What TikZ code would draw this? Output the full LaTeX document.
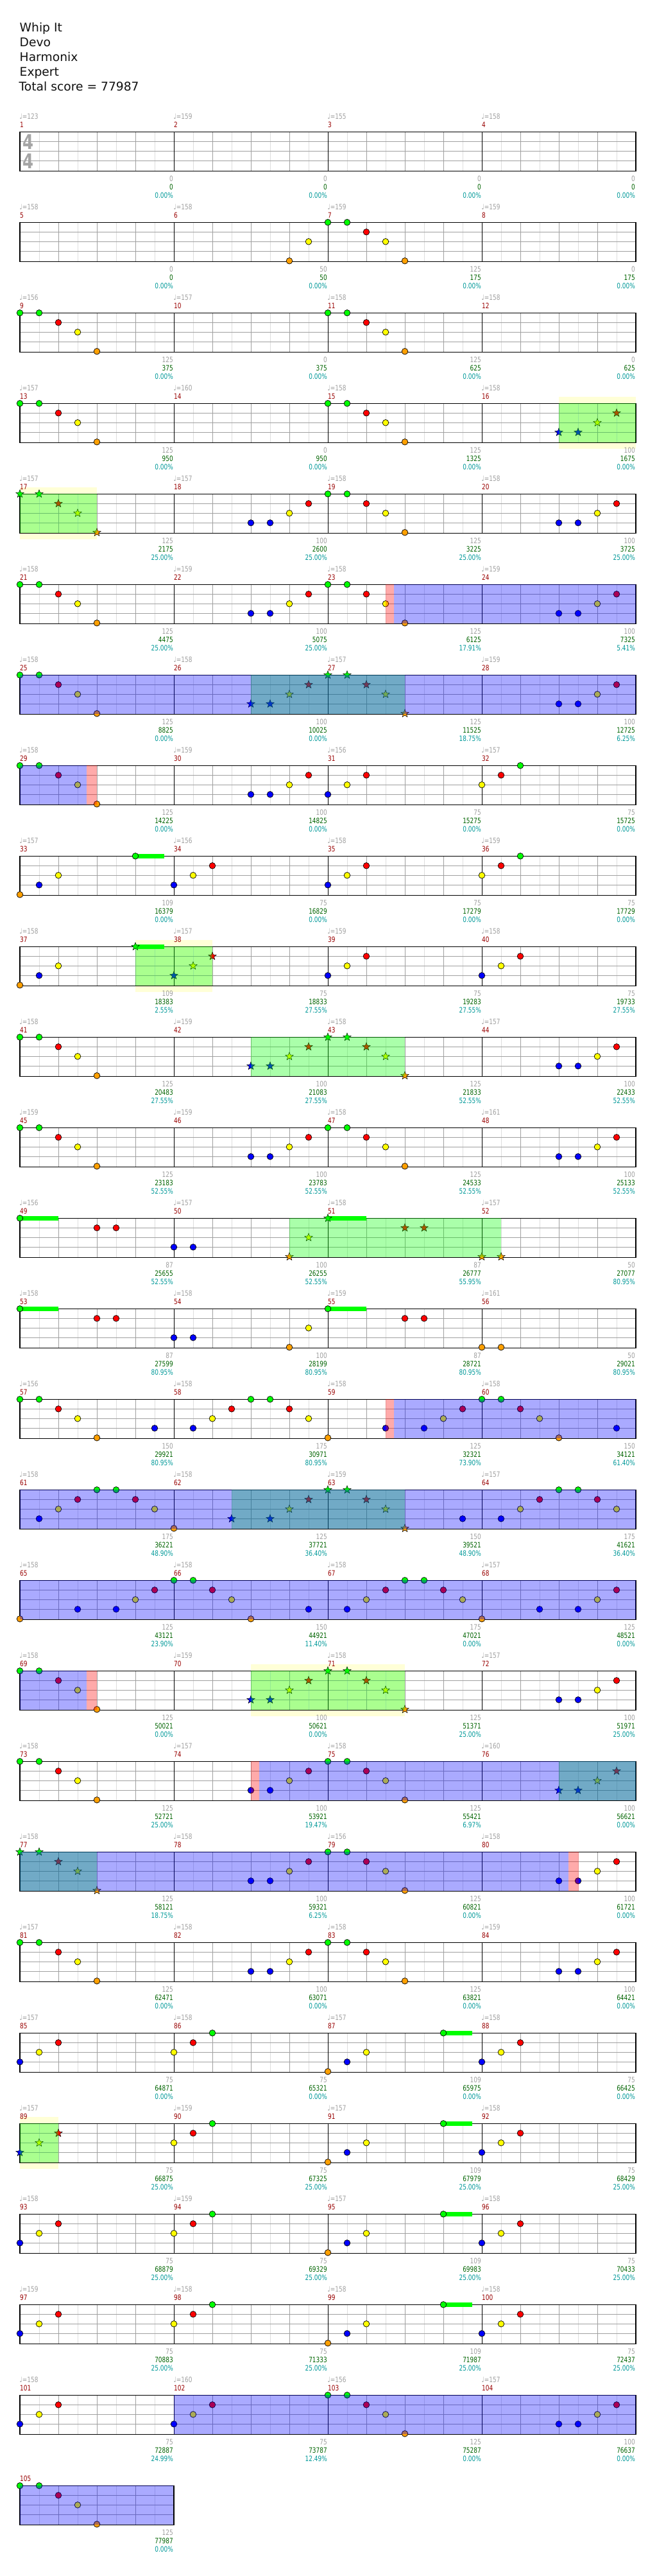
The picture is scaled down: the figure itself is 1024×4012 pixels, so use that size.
\documentclass[tikz,border=0pt]{standalone}
\usepackage{fontspec}
\setmainfont{DejaVu Sans}
\newfontfamily\lblfont[FakeStretch=0.78]{DejaVu Sans}
\usetikzlibrary{shapes.geometric}
\definecolor{cG}{RGB}{0,255,0}
\definecolor{cR}{RGB}{255,0,0}
\definecolor{cY}{RGB}{255,255,0}
\definecolor{cB}{RGB}{0,0,255}
\definecolor{cO}{RGB}{255,160,0}
\definecolor{glight}{RGB}{222,222,222}
\definecolor{gdark}{RGB}{160,160,160}
\definecolor{tgray}{RGB}{160,160,160}
\definecolor{mred}{RGB}{153,0,0}
\definecolor{sgreen}{RGB}{0,100,0}
\definecolor{pcyan}{RGB}{0,153,153}
\definecolor{bandy}{RGB}{255,255,215}
\definecolor{sigray}{RGB}{165,165,165}
\definecolor{hdrtext}{RGB}{17,17,17}
\tikzset{
  lbl/.style={font=\lblfont\fontsize{11.5}{12}\selectfont, inner sep=0pt},
  hdr/.style={font=\fontsize{18.7}{20}\selectfont, inner sep=0pt, anchor=base west, text=hdrtext},
  notec/.style={draw=black, line width=0.7pt, fill=#1},
  starn/.style={star, star points=5, star point ratio=2.4, minimum size=13pt, inner sep=0pt, draw=black, line width=0.5pt, fill=#1},
  sigf/.style={font=\bfseries, text=sigray, inner sep=0pt}
}
\def\laneG{0}\def\laneR{1}\def\laneY{2}\def\laneB{3}\def\laneO{4}
\newcommand\Nt[4]{\pgfmathsetmacro\nX{31+240*#2+30*#3}\pgfmathsetmacro\nY{205.3+141*#1+15*\csname lane#4\endcsname}\draw[notec=c#4] (\nX,\nY) circle (4.8);}
\newcommand\St[4]{\pgfmathsetmacro\nX{31+240*#2+30*#3}\pgfmathsetmacro\nY{205.3+141*#1+15*\csname lane#4\endcsname}\node[starn=c#4] (s#1-#2-#3) at (\nX,\nY) {};}
\newcommand\Sus[4]{\pgfmathsetmacro\nX{31+240*#2+30*#3}\pgfmathsetmacro\nY{205.3+141*#1}\fill[cG] (\nX,{\nY-3.3}) rectangle ({\nX+#4},{\nY+3.3});}
\newcommand\ptA[2]{\Nt{#1}{#2}{0}{G}\Nt{#1}{#2}{1}{G}\Nt{#1}{#2}{2}{R}\Nt{#1}{#2}{3}{Y}\Nt{#1}{#2}{4}{O}}
\newcommand\stA[2]{\St{#1}{#2}{0}{G}\St{#1}{#2}{1}{G}\St{#1}{#2}{2}{R}\St{#1}{#2}{3}{Y}\St{#1}{#2}{4}{O}}
\newcommand\ptB[2]{\Nt{#1}{#2}{4}{B}\Nt{#1}{#2}{5}{B}\Nt{#1}{#2}{6}{Y}\Nt{#1}{#2}{7}{R}}
\newcommand\stB[2]{\St{#1}{#2}{4}{B}\St{#1}{#2}{5}{B}\St{#1}{#2}{6}{Y}\St{#1}{#2}{7}{R}}
\newcommand\ptC[2]{\Nt{#1}{#2}{0}{B}\Nt{#1}{#2}{1}{Y}\Nt{#1}{#2}{2}{R}}
\newcommand\stC[2]{\St{#1}{#2}{0}{B}\St{#1}{#2}{1}{Y}\St{#1}{#2}{2}{R}}
\newcommand\ptD[2]{\Nt{#1}{#2}{0}{Y}\Nt{#1}{#2}{1}{R}\Nt{#1}{#2}{2}{G}}
\newcommand\ptE[2]{\Sus{#1}{#2}{6}{45}\Nt{#1}{#2}{0}{O}\Nt{#1}{#2}{1}{B}\Nt{#1}{#2}{2}{Y}\Nt{#1}{#2}{6}{G}}
\newcommand\ptF[2]{\Nt{#1}{#2}{1}{B}\Nt{#1}{#2}{2}{Y}\Nt{#1}{#2}{3}{R}\Nt{#1}{#2}{4}{G}\Nt{#1}{#2}{5}{G}\Nt{#1}{#2}{6}{R}\Nt{#1}{#2}{7}{Y}}
\newcommand\ptH[2]{\Nt{#1}{#2}{0}{O}\Nt{#1}{#2}{3}{B}\Nt{#1}{#2}{5}{B}\Nt{#1}{#2}{6}{Y}\Nt{#1}{#2}{7}{R}}
\newcommand\Zone[4]{\pgfmathsetmacro\zT{205.3+141*#1}\fill[#4,fill opacity=0.333] (#2,\zT) rectangle (#3,{\zT+61});}
\newcommand\Band[3]{\pgfmathsetmacro\zT{205.3+141*#1}\fill[bandy] (#2,{\zT-10}) rectangle (#3,{\zT+71});}
\newcommand\Staff[2]{%
  \pgfmathsetmacro\sT{205.3+141*#1}%
  \pgfmathtruncatemacro\nb{4*#2}%
  \pgfmathsetmacro\xe{31+240*#2}%
  \foreach \i in {1,...,\nb}{\draw[glight,line width=0.8pt] ({31+60*\i-30},\sT) -- ({31+60*\i-30},{\sT+61});}
  \foreach \i in {1,...,\nb}{\draw[gdark,line width=0.8pt] ({31+60*\i},\sT) -- ({31+60*\i},{\sT+61});}
  \foreach \l in {15,30,45}{\draw[gdark,line width=0.8pt] (31,{\sT+\l}) -- (\xe,{\sT+\l});}
  \ifnum#2>1 \foreach \j in {1,2,3}{\draw[black,line width=0.9pt] ({31+240*\j},\sT) -- ({31+240*\j},{\sT+61});}\fi
  \draw[black,line width=1.3pt] (31,\sT) rectangle (\xe,{\sT+61});
}
\begin{document}
\begin{tikzpicture}[x=1pt,y=-1pt]
\useasboundingbox (0,0) rectangle (1024,4012);
\fill[white] (0,0) rectangle (1024,4012);
% header
\node[hdr] (title) at (30.5,49) {Whip It};
\node[hdr] (artist) at (30.5,72) {Devo};
\node[hdr] (charter) at (30.5,95.3) {Harmonix};
\node[hdr] (diff) at (30.5,118.3) {Expert};
\node[hdr] (total) at (29.5,141.3) {Total score = 77987};
% star-phrase backgrounds
\Band{3}{871}{991}\Band{4}{31}{151}\Band{9}{211}{331}\Band{17}{391}{631}\Band{22}{31}{91}
% staffs
\foreach \r in {0,...,25}{\Staff{\r}{4}}
\Staff{26}{1}
% time signature
\node[sigf] (ts1) at (44.5,220.7) {\resizebox{17pt}{23pt}{4}};
\node[sigf] (ts2) at (44.5,250.5) {\resizebox{17pt}{23pt}{4}};
% notes
\Nt{1}{1}{6}{O}\Nt{1}{1}{7}{Y}\ptA{1}{2}
\ptA{2}{0}\ptA{2}{2}
\ptA{3}{0}\ptA{3}{2}\stB{3}{3}
\stA{4}{0}\ptB{4}{1}\ptA{4}{2}\ptB{4}{3}
\ptA{5}{0}\ptB{5}{1}\ptA{5}{2}\ptB{5}{3}
\ptA{6}{0}\stB{6}{1}\stA{6}{2}\ptB{6}{3}
\ptA{7}{0}\ptB{7}{1}\ptC{7}{2}\ptD{7}{3}
\ptE{8}{0}\ptC{8}{1}\ptC{8}{2}\ptD{8}{3}
\Sus{9}{0}{6}{45}\Nt{9}{0}{0}{O}\Nt{9}{0}{1}{B}\Nt{9}{0}{2}{Y}\St{9}{0}{6}{G}\stC{9}{1}\ptC{9}{2}\ptC{9}{3}
\ptA{10}{0}\stB{10}{1}\stA{10}{2}\ptB{10}{3}
\ptA{11}{0}\ptB{11}{1}\ptA{11}{2}\ptB{11}{3}
\Sus{12}{0}{0}{60}\Nt{12}{0}{0}{G}\Nt{12}{0}{4}{R}\Nt{12}{0}{5}{R}
\Nt{12}{1}{0}{B}\Nt{12}{1}{1}{B}\St{12}{1}{6}{O}\St{12}{1}{7}{Y}
\Sus{12}{2}{0}{60}\St{12}{2}{0}{G}\St{12}{2}{4}{R}\St{12}{2}{5}{R}
\St{12}{3}{0}{O}\St{12}{3}{1}{O}
\Sus{13}{0}{0}{60}\Nt{13}{0}{0}{G}\Nt{13}{0}{4}{R}\Nt{13}{0}{5}{R}
\Nt{13}{1}{0}{B}\Nt{13}{1}{1}{B}\Nt{13}{1}{6}{O}\Nt{13}{1}{7}{Y}
\Sus{13}{2}{0}{60}\Nt{13}{2}{0}{G}\Nt{13}{2}{4}{R}\Nt{13}{2}{5}{R}
\Nt{13}{3}{0}{O}\Nt{13}{3}{1}{O}
\ptA{14}{0}\Nt{14}{0}{7}{B}\ptF{14}{1}\ptH{14}{2}\ptA{14}{3}\Nt{14}{3}{7}{B}
\ptF{15}{0}\Nt{15}{1}{0}{O}\St{15}{1}{3}{B}\St{15}{1}{5}{B}\St{15}{1}{6}{Y}\St{15}{1}{7}{R}\stA{15}{2}\Nt{15}{2}{7}{B}\ptF{15}{3}
\ptH{16}{0}\ptA{16}{1}\Nt{16}{1}{7}{B}\ptF{16}{2}\ptH{16}{3}
\ptA{17}{0}\stB{17}{1}\stA{17}{2}\ptB{17}{3}
\ptA{18}{0}\ptB{18}{1}\ptA{18}{2}\stB{18}{3}
\stA{19}{0}\ptB{19}{1}\ptA{19}{2}\ptB{19}{3}
\ptA{20}{0}\ptB{20}{1}\ptA{20}{2}\ptB{20}{3}
\ptC{21}{0}\ptD{21}{1}\ptE{21}{2}\ptC{21}{3}
\stC{22}{0}\ptD{22}{1}\ptE{22}{2}\ptC{22}{3}
\ptC{23}{0}\ptD{23}{1}\ptE{23}{2}\ptC{23}{3}
\ptC{24}{0}\ptD{24}{1}\ptE{24}{2}\ptC{24}{3}
\ptC{25}{0}\ptC{25}{1}\ptA{25}{2}\ptB{25}{3}
\ptA{26}{0}
% star power overlays
\Zone{3}{871}{991}{cG}\Zone{4}{31}{151}{cG}\Zone{6}{391}{631}{cG}\Zone{9}{211}{331}{cG}
\Zone{10}{391}{631}{cG}\Zone{12}{451}{781}{cG}\Zone{15}{361}{631}{cG}\Zone{17}{391}{631}{cG}
\Zone{18}{871}{991}{cG}\Zone{19}{31}{151}{cG}\Zone{22}{31}{91}{cG}
% activation markers
\Zone{5}{601}{614}{cR}\Zone{7}{135}{151}{cR}\Zone{14}{601}{614}{cR}\Zone{17}{135}{151}{cR}
\Zone{18}{391}{404}{cR}\Zone{19}{886}{902}{cR}
% overdrive overlays
\Zone{5}{614}{991}{cB}\Zone{6}{31}{991}{cB}\Zone{7}{31}{135}{cB}\Zone{14}{614}{991}{cB}
\Zone{15}{31}{991}{cB}\Zone{16}{31}{991}{cB}\Zone{17}{31}{135}{cB}\Zone{18}{404}{991}{cB}
\Zone{19}{31}{886}{cB}\Zone{25}{271}{991}{cB}\Zone{26}{31}{270}{cB}
% measure labels
\foreach \Mn/\Tp/\Gs/\Sc/\Pc in {
1/123/0/0/0.00, 2/159/0/0/0.00, 3/155/0/0/0.00, 4/158/0/0/0.00,
5/158/0/0/0.00, 6/158/50/50/0.00, 7/159/125/175/0.00, 8/159/0/175/0.00,
9/156/125/375/0.00, 10/157/0/375/0.00, 11/158/125/625/0.00, 12/158/0/625/0.00,
13/157/125/950/0.00, 14/160/0/950/0.00, 15/158/125/1325/0.00, 16/158/100/1675/0.00,
17/157/125/2175/25.00, 18/157/100/2600/25.00, 19/158/125/3225/25.00, 20/158/100/3725/25.00,
21/158/125/4475/25.00, 22/159/100/5075/25.00, 23/158/125/6125/17.91, 24/159/100/7325/5.41,
25/158/125/8825/0.00, 26/158/100/10025/0.00, 27/157/125/11525/18.75, 28/159/100/12725/6.25,
29/158/125/14225/0.00, 30/159/100/14825/0.00, 31/156/75/15275/0.00, 32/157/75/15725/0.00,
33/157/109/16379/0.00, 34/156/75/16829/0.00, 35/158/75/17279/0.00, 36/159/75/17729/0.00,
37/158/109/18383/2.55, 38/157/75/18833/27.55, 39/159/75/19283/27.55, 40/158/75/19733/27.55,
41/158/125/20483/27.55, 42/159/100/21083/27.55, 43/158/125/21833/52.55, 44/157/100/22433/52.55,
45/159/125/23183/52.55, 46/159/100/23783/52.55, 47/158/125/24533/52.55, 48/161/100/25133/52.55,
49/156/87/25655/52.55, 50/157/100/26255/52.55, 51/158/87/26777/55.95, 52/157/50/27077/80.95,
53/158/87/27599/80.95, 54/158/100/28199/80.95, 55/159/87/28721/80.95, 56/161/50/29021/80.95,
57/156/150/29921/80.95, 58/158/175/30971/80.95, 59/158/125/32321/73.90, 60/158/150/34121/61.40,
61/158/175/36221/48.90, 62/158/125/37721/36.40, 63/159/150/39521/48.90, 64/157/175/41621/36.40,
65/158/125/43121/23.90, 66/158/150/44921/11.40, 67/158/175/47021/0.00, 68/157/125/48521/0.00,
69/158/125/50021/0.00, 70/159/100/50621/0.00, 71/158/125/51371/25.00, 72/157/100/51971/25.00,
73/158/125/52721/25.00, 74/157/100/53921/19.47, 75/158/125/55421/6.97, 76/160/100/56621/0.00,
77/158/125/58121/18.75, 78/158/100/59321/6.25, 79/156/125/60821/0.00, 80/158/100/61721/0.00,
81/157/125/62471/0.00, 82/158/100/63071/0.00, 83/158/125/63821/0.00, 84/159/100/64421/0.00,
85/157/75/64871/0.00, 86/158/75/65321/0.00, 87/157/109/65975/0.00, 88/158/75/66425/0.00,
89/157/75/66875/25.00, 90/159/75/67325/25.00, 91/157/109/67979/25.00, 92/158/75/68429/25.00,
93/158/75/68879/25.00, 94/159/75/69329/25.00, 95/157/109/69983/25.00, 96/158/75/70433/25.00,
97/159/75/70883/25.00, 98/158/75/71333/25.00, 99/158/109/71987/25.00, 100/158/75/72437/25.00,
101/158/75/72887/24.99, 102/160/75/73787/12.49, 103/156/125/75287/0.00, 104/157/100/76637/0.00}{
  \pgfmathtruncatemacro\rr{(\Mn-1)/4}
  \pgfmathtruncatemacro\cc{\Mn-1-4*\rr}
  \pgfmathsetmacro\lT{205.3+141*\rr}
  \pgfmathsetmacro\xl{31+240*\cc}
  \pgfmathsetmacro\xr{31+240*\cc+239}
  \node[lbl,text=tgray,anchor=base west] (tp\Mn) at ({\xl-0.5},{\lT-20}) {♩=\Tp};
  \node[lbl,text=mred,anchor=base west] (mn\Mn) at (\xl,{\lT-7}) {\Mn};
  \node[lbl,text=tgray,anchor=base east] (gs\Mn) at (\xr,{\lT+77}) {\Gs};
  \node[lbl,text=sgreen,anchor=base east] (sc\Mn) at (\xr,{\lT+90}) {\Sc};
  \node[lbl,text=pcyan,anchor=base east] (pc\Mn) at (\xr,{\lT+103}) {\Pc\%};
}
\node[lbl,text=mred,anchor=base west] (mn105) at (31,{205.3+141*26-7}) {105};
\node[lbl,text=tgray,anchor=base east] (gs105) at (270,{205.3+141*26+77}) {125};
\node[lbl,text=sgreen,anchor=base east] (sc105) at (270,{205.3+141*26+90}) {77987};
\node[lbl,text=pcyan,anchor=base east] (pc105) at (270,{205.3+141*26+103}) {0.00\%};
\end{tikzpicture}
\end{document}
